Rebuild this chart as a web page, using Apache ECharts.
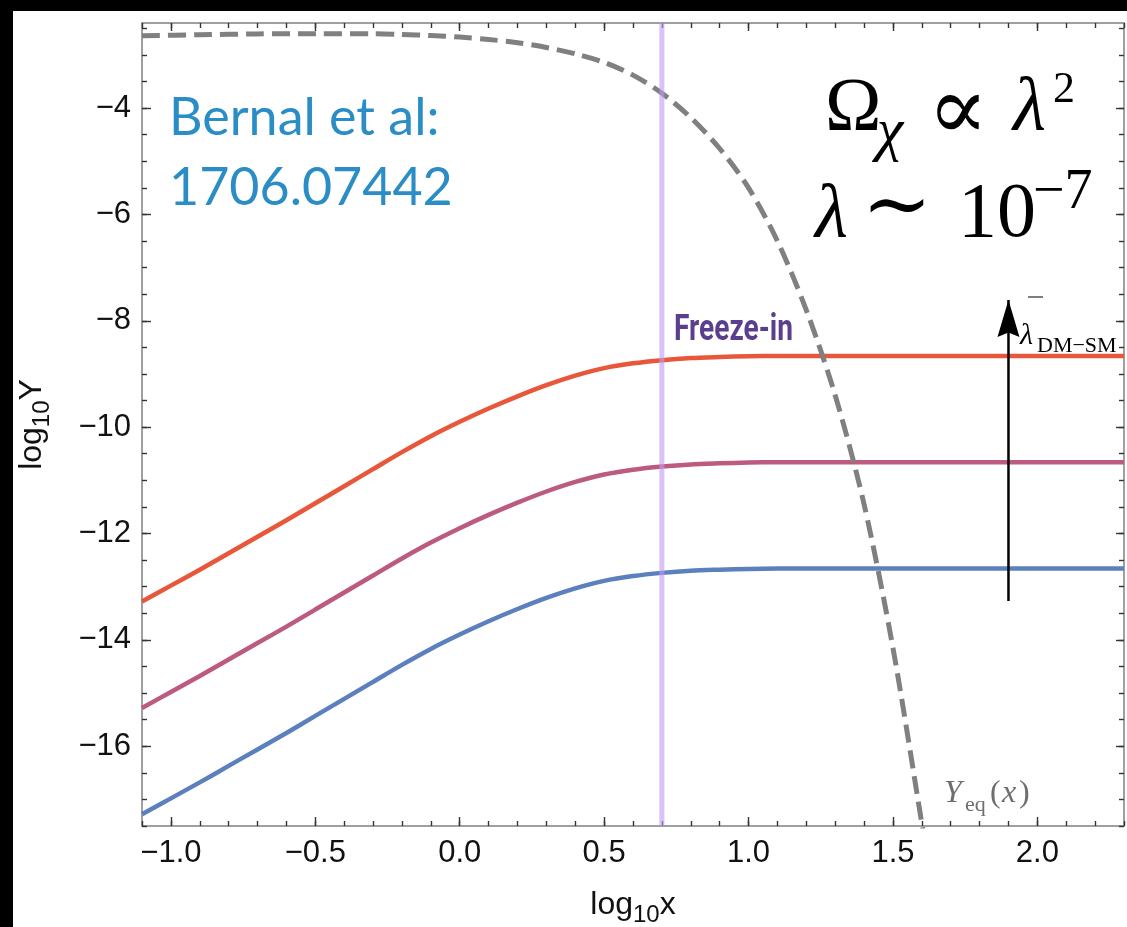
<!DOCTYPE html>
<html>
<head>
<meta charset="utf-8">
<script src="https://cdn.jsdelivr.net/npm/echarts@6/dist/echarts.min.js"></script>
<style>
  html, body { margin: 0; padding: 0; background: #fff; }
  #chart { width: 1127px; height: 927px; }
</style>
</head>
<body>
<div id="chart"></div>
<script>
// ---- data ----
let xs = [-1.1, -1.0, -0.9, -0.8, -0.7, -0.6, -0.5, -0.4, -0.3, -0.2, -0.1, 0.0, 0.1, 0.2, 0.3, 0.4, 0.5, 0.6, 0.7, 0.8, 0.9, 1.0, 1.1, 1.2, 1.5, 2.0, 2.3];
let redY = [-13.28, -12.98, -12.68, -12.37, -12.06, -11.75, -11.43, -11.11, -10.79, -10.47, -10.17, -9.90, -9.65, -9.42, -9.21, -9.03, -8.89, -8.80, -8.74, -8.70, -8.68, -8.665, -8.66, -8.66, -8.66, -8.66, -8.66];
let purpleY = [-15.28, -14.98, -14.68, -14.37, -14.06, -13.75, -13.43, -13.11, -12.79, -12.47, -12.17, -11.90, -11.65, -11.42, -11.21, -11.03, -10.89, -10.80, -10.74, -10.70, -10.68, -10.665, -10.66, -10.66, -10.66, -10.66, -10.66];
let blueY = [-17.28, -16.98, -16.68, -16.37, -16.06, -15.75, -15.43, -15.11, -14.79, -14.47, -14.17, -13.90, -13.65, -13.42, -13.21, -13.03, -12.89, -12.80, -12.74, -12.70, -12.68, -12.665, -12.66, -12.66, -12.66, -12.66, -12.66];

let eqX = [-1.1, -0.9, -0.7, -0.5, -0.3, -0.2, -0.1, 0.0, 0.1, 0.2, 0.3, 0.4, 0.5, 0.6, 0.7, 0.8, 0.9, 1.0, 1.1, 1.2, 1.3, 1.4, 1.5, 1.6, 1.62];
let eqY = [-2.64, -2.62, -2.605, -2.60, -2.60, -2.615, -2.635, -2.665, -2.71, -2.77, -2.86, -2.98, -3.14, -3.38, -3.72, -4.18, -4.76, -5.50, -6.50, -7.80, -9.40, -11.45, -14.15, -17.45, -18.1];

let freezeX = 0.7;
let arrowX = 1.9;
let arrowY = [-13.27, -7.61];

let xTicks = [-1.0, -0.5, 0.0, 0.5, 1.0, 1.5, 2.0];
let yTicks = [-16, -14, -12, -10, -8, -6, -4];
let xRange = [-1.1, 2.3];
let yRange = [-17.5, -2.4];

let xMinor = [];
for (let i = -11; i <= 23; i++) xMinor.push(i / 10);
let yMinor = [];
for (let i = -35; i <= -5; i++) yMinor.push(i / 2);

const pair = (a, b) => a.map((v, i) => [v, b[i]]);
const minus = (s) => s.replace('-', '\u2212');

// ---- axes ----
const frameLine = { color: '#808080', width: 1.5 };
const tickStyle = { color: '#333', width: 1.4 };
const serif = "'Liberation Serif', 'DejaVu Serif', serif";
const sans = 'Liberation Sans';

let mkAxis = (pos, range, ticks, len, line) => ({
    type: 'value', position: pos, min: range[0], max: range[1],
    axisLine: { show: line, onZero: false, lineStyle: frameLine },
    axisTick: { show: true, inside: true, length: len, customValues: ticks, lineStyle: tickStyle },
    axisLabel: { show: false },
    splitLine: { show: false }
});

let nameRich = {
    rich: {
        n: { fontSize: 32, color: '#111', fontFamily: sans },
        s: { fontSize: 24, color: '#111', fontFamily: sans, padding: [20, 0, 0, 0] }
    }
};

let xBottom = mkAxis('bottom', xRange, xTicks, 9, true);
xBottom.axisLabel = {
    show: true, customValues: xTicks, margin: 12,
    fontSize: 31, color: '#111', fontFamily: sans,
    formatter: (v) => minus(v.toFixed(1))
};
xBottom.name = '{n|log}{s|10}{n|x}';
xBottom.nameLocation = 'middle';
xBottom.nameGap = 57;
xBottom.nameTextStyle = nameRich;

let yLeft = mkAxis('left', yRange, yTicks, 9, true);
yLeft.axisLabel = {
    show: true, customValues: yTicks, margin: 11,
    fontSize: 31, color: '#111', fontFamily: sans,
    formatter: (v) => minus(String(v))
};
yLeft.name = '{n|log}{s|10}{n|Y}';
yLeft.nameLocation = 'middle';
yLeft.nameRotate = 90;
yLeft.nameGap = 88;
yLeft.nameTextStyle = nameRich;

var myChart = echarts.init(document.getElementById('chart'));
let option = {
    animation: false,
    backgroundColor: '#fff',
    grid: { left: 142, right: 3, top: 23, bottom: 101, outerBoundsMode: 'none', containLabel: false },
    xAxis: [
        xBottom,
        mkAxis('bottom', xRange, xMinor, 5, false),
        mkAxis('top', xRange, xTicks, 8, true),
        mkAxis('top', xRange, xMinor, 5, false)
    ],
    yAxis: [
        yLeft,
        mkAxis('left', yRange, yMinor, 5, false),
        mkAxis('right', yRange, yTicks, 8, true),
        mkAxis('right', yRange, yMinor, 5, false)
    ],
    series: [
        { name: 'red', type: 'line', data: pair(xs, redY), smooth: 0.3, symbol: 'none', z: 2,
          lineStyle: { color: '#e8573a', width: 4.5 } },
        { name: 'purple', type: 'line', data: pair(xs, purpleY), smooth: 0.3, symbol: 'none', z: 2,
          lineStyle: { color: '#bd5a80', width: 4.5 } },
        { name: 'blue', type: 'line', data: pair(xs, blueY), smooth: 0.3, symbol: 'none', z: 2,
          lineStyle: { color: '#5c80be', width: 4.5 } },
        { name: 'Yeq', type: 'line', data: pair(eqX, eqY), smooth: 0.3, symbol: 'none', z: 3,
          lineStyle: { color: '#808080', width: 5, type: [18, 8] } },
        { name: 'freeze', type: 'line', data: [[freezeX, yRange[0]], [freezeX, yRange[1]]], symbol: 'none', z: 4,
          lineStyle: { color: 'rgb(192,153,242)', opacity: 0.6, width: 5 } },
        { name: 'arrow', type: 'line', z: 5, showSymbol: true,
          lineStyle: { color: '#000', width: 2.5 },
          itemStyle: { color: '#000' },
          data: [
              { value: [arrowX, arrowY[0]], symbol: 'none' },
              { value: [arrowX, arrowY[1]], symbol: 'path://M50,0L100,100L50,88L0,100Z',
                symbolSize: [22, 37], symbolOffset: [0, '50%'] }
          ] }
    ],
    graphic: [
        { type: 'rect', shape: { x: 0, y: 0, width: 13, height: 927 }, style: { fill: '#000' } },
        { type: 'rect', shape: { x: 0, y: 0, width: 1127, height: 11 }, style: { fill: '#000' } },
        // Bernal et al
        { type: 'text', x: 169, y: 118, z: 100, style: { text: 'Bernal et al:', fill: '#2a8dc5', font: "52px Lato", verticalAlign: 'middle' } },
        { type: 'text', x: 169, y: 188, z: 100, style: { text: '1706.07442', fill: '#2a8dc5', font: "52px Lato", verticalAlign: 'middle' } },
        // Omega_chi ∝ lambda^2
        { type: 'text', x: 825, y: 110, z: 100, style: { text: 'Ω', fill: '#000', font: '76px ' + serif, verticalAlign: 'middle' } },
        { type: 'text', x: 890, y: 133, z: 100, style: { text: 'χ', fill: '#000', font: 'italic 60px ' + serif, align: 'center', verticalAlign: 'middle' } },
        { type: 'text', x: 958, y: 115, z: 100, style: { text: '∝', fill: '#000', font: '90px ' + serif, align: 'center', verticalAlign: 'middle' } },
        { type: 'text', x: 1013, y: 110, z: 100, style: { text: 'λ', fill: '#000', font: 'italic 76px ' + serif, verticalAlign: 'middle' } },
        { type: 'text', x: 1053, y: 90, z: 100, style: { text: '2', fill: '#000', font: '44px ' + serif, verticalAlign: 'middle' } },
        // lambda ~ 10^-7
        { type: 'text', x: 815, y: 217, z: 100, style: { text: 'λ', fill: '#000', font: 'italic 76px ' + serif, verticalAlign: 'middle' } },
        { type: 'text', x: 897, y: 210, z: 100, style: { text: '∼', fill: '#000', font: '84px ' + serif, align: 'center', verticalAlign: 'middle' } },
        { type: 'text', x: 958, y: 216, z: 100, style: { text: '10', fill: '#000', font: '78px ' + serif, verticalAlign: 'middle' } },
        { type: 'text', x: 1033, y: 193, z: 100, style: { text: '\u22127', fill: '#000', font: '56px ' + serif, verticalAlign: 'middle' } },
        // Freeze-in
        { type: 'text', x: 674, y: 331, z: 100, scaleX: 0.78, style: { text: 'Freeze-in', fill: '#5b3f8f', font: 'bold 36px Roboto', verticalAlign: 'middle' } },
        // lambda_DM-SM
        { type: 'line', z: 100, shape: { x1: 1028, y1: 297, x2: 1043, y2: 297 }, style: { stroke: '#555', lineWidth: 1.5 } },
        { type: 'text', x: 1020, y: 336, z: 100, style: { text: 'λ', fill: '#000', font: 'italic 30px ' + serif, verticalAlign: 'middle' } },
        { type: 'text', x: 1037, y: 346, z: 100, style: { text: 'DM\u2212SM', fill: '#000', font: '22px ' + serif, verticalAlign: 'middle' } },
        // Y_eq(x)
        { type: 'text', x: 944, y: 794, z: 100, style: { text: 'Y', fill: '#6e6e6e', font: 'italic 32px ' + serif, verticalAlign: 'middle' } },
        { type: 'text', x: 965, y: 805, z: 100, style: { text: 'eq', fill: '#6e6e6e', font: '22px ' + serif, verticalAlign: 'middle' } },
        { type: 'text', x: 990, y: 794, z: 100, style: { text: '(', fill: '#6e6e6e', font: '32px ' + serif, verticalAlign: 'middle' } },
        { type: 'text', x: 1002, y: 794, z: 100, style: { text: 'x', fill: '#6e6e6e', font: 'italic 32px ' + serif, verticalAlign: 'middle' } },
        { type: 'text', x: 1019, y: 794, z: 100, style: { text: ')', fill: '#6e6e6e', font: '32px ' + serif, verticalAlign: 'middle' } }
    ]
};
myChart.setOption(option);
</script>
</body>
</html>
